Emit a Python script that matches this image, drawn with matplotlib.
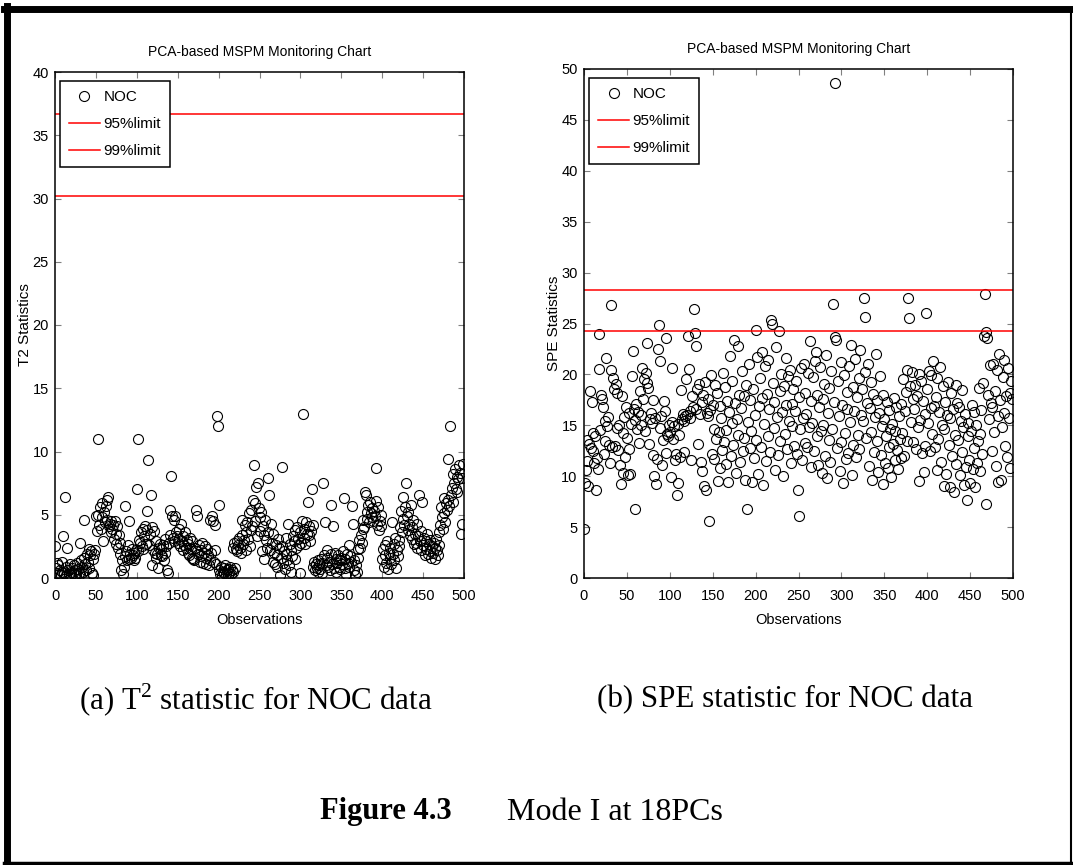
import numpy as np
import matplotlib
matplotlib.use("Agg")
import matplotlib.pyplot as plt
from matplotlib.lines import Line2D

# T2 statistic for NOC data (500 observations)
t2_values = [
    2.5, 0.8, 1.2, 0.4, 1.0, 0.3, 0.6, 0.2, 1.3, 0.5,
    3.3, 0.4, 6.4, 0.9, 0.2, 2.4, 0.6, 0.3, 1.1, 0.5,
    0.2, 0.8, 0.4, 1.0, 0.3, 0.6, 0.2, 1.2, 0.7, 0.4,
    2.8, 0.3, 1.4, 0.9, 0.5, 1.6, 4.6, 1.1, 0.6, 1.9,
    1.3, 2.3, 0.8, 1.8, 2.1, 0.4, 1.5, 0.2, 1.9, 2.2,
    4.9, 3.7, 11.0, 5.0, 4.2, 5.6, 3.9, 4.8, 5.9, 2.9,
    5.2, 4.4, 5.7, 4.6, 6.2, 6.4, 4.1, 4.3, 3.6, 4.5,
    3.9, 4.2, 3.1, 4.5, 2.7, 3.5, 4.1, 2.4, 3.4, 1.9,
    2.8, 0.6, 1.4, 0.3, 0.9, 5.7, 1.7, 2.1, 1.4, 2.6,
    1.5, 4.5, 1.9, 1.6, 2.3, 1.8, 1.4, 2.0, 1.6, 2.2,
    7.0, 2.1, 11.0, 3.0, 2.8, 3.6, 2.5, 3.9, 2.3, 3.3,
    4.1, 2.7, 5.3, 3.8, 9.3, 2.6, 3.5, 6.6, 1.0, 4.0,
    2.2, 3.7, 2.0, 1.6, 2.9, 1.9, 0.8, 2.4, 2.7, 1.8,
    2.3, 1.7, 2.6, 1.4, 2.0, 3.1, 2.5, 0.6, 0.4, 2.8,
    3.4, 5.4, 8.1, 4.9, 3.2, 4.6, 2.9, 4.9, 3.6, 3.3,
    2.8, 3.9, 3.1, 2.5, 4.3, 2.9, 2.2, 3.3, 2.6, 3.6,
    2.4, 3.0, 2.0, 2.7, 1.8, 3.2, 2.3, 1.6, 2.9, 1.5,
    1.4, 2.4, 5.4, 2.1, 4.9, 1.9, 2.6, 1.3, 2.2, 1.7,
    2.8, 1.2, 2.0, 2.5, 1.6, 1.1, 2.3, 1.8, 1.0, 4.6,
    1.4, 2.0, 4.9, 4.5, 1.3, 2.2, 4.2, 1.1, 12.8, 12.0,
    5.8, 0.6, 0.3, 0.9, 0.2, 0.5, 0.8, 0.4, 1.0, 0.3,
    0.6, 0.2, 0.7, 0.4, 0.9, 0.3, 0.6, 2.4, 0.5, 2.8,
    0.8, 2.3, 2.1, 2.9, 2.6, 3.2, 2.4, 2.0, 3.4, 4.6,
    2.7, 3.0, 4.2, 3.6, 2.2, 4.4, 3.1, 5.1, 2.5, 3.8,
    5.4, 4.1, 6.2, 8.9, 5.9, 4.5, 7.2, 3.3, 7.5, 5.5,
    4.8, 3.7, 5.2, 2.1, 4.1, 1.5, 3.4, 4.6, 3.0, 2.4,
    7.9, 3.6, 6.6, 2.2, 4.3, 2.8, 1.3, 3.5, 2.0, 1.1,
    2.6, 1.8, 0.9, 3.1, 2.4, 0.2, 1.6, 8.8, 2.5, 1.2,
    2.1, 0.7, 3.2, 1.9, 1.4, 4.3, 1.0, 2.7, 0.5, 2.2,
    1.7, 3.3, 2.9, 1.5, 3.8, 2.4, 4.0, 3.1, 2.6, 0.4,
    3.6, 2.8, 4.5, 13.0, 3.2, 3.9, 2.7, 4.4, 3.5, 6.0,
    3.4, 4.1, 2.9, 3.7, 7.0, 4.2, 0.9, 1.3, 0.6, 1.1,
    0.8, 1.4, 0.5, 1.0, 0.7, 1.5, 1.2, 0.4, 7.5, 1.8,
    4.4, 1.0, 2.2, 1.6, 0.9, 1.3, 0.6, 5.8, 1.9, 1.1,
    4.1, 0.8, 2.0, 1.5, 0.5, 1.2, 1.8, 0.9, 1.4, 0.7,
    1.6, 1.1, 2.1, 6.3, 0.8, 1.5, 0.3, 1.9, 1.2, 2.6,
    0.9, 1.7, 1.3, 5.7, 4.3, 0.6, 1.4, 0.2, 1.0, 0.5,
    2.3, 1.6, 3.0, 2.4, 3.4, 2.8, 3.9, 4.6, 4.0, 6.8,
    6.6, 5.2, 4.7, 5.8, 4.4, 6.0, 5.1, 4.8, 5.5, 4.5,
    5.3, 4.9, 6.1, 8.7, 4.2, 5.6, 3.8, 4.5, 5.0, 4.1,
    1.5, 2.3, 0.9, 1.8, 2.6, 1.2, 2.9, 0.7, 2.0, 1.6,
    2.4, 1.1, 4.4, 1.9, 2.7, 1.4, 3.2, 0.8, 2.2, 1.7,
    3.0, 2.5, 4.0, 5.3, 3.6, 4.7, 6.4, 4.2, 5.6, 7.5,
    4.9, 3.8, 5.2, 4.3, 3.4, 5.8, 4.0, 3.1, 4.6, 2.7,
    3.5, 2.8, 4.3, 2.4, 3.3, 6.6, 2.9, 2.2, 3.7, 6.0,
    2.6, 3.2, 1.8, 2.9, 2.3, 3.5, 1.9, 2.7, 2.1, 3.0,
    1.6, 2.5, 2.0, 2.8, 1.5, 2.4, 3.1, 2.2, 1.8, 2.6,
    3.6, 4.2, 5.6, 4.8, 3.9, 6.3, 5.1, 4.4, 5.9, 5.4,
    6.2, 9.4, 5.7, 12.0, 6.6, 7.1, 6.0, 8.2, 7.5, 8.6,
    7.0, 8.0, 6.8, 7.8, 8.9, 8.3, 3.5, 4.3, 7.9, 9.0,
]

# SPE statistic for NOC data (500 observations)
spe_values = [
    4.8, 9.3, 10.6, 11.5, 13.6, 9.0, 13.2, 18.4, 12.8, 17.3,
    14.2, 12.5, 11.3, 13.9, 8.6, 11.8, 10.7, 24.0, 20.5, 14.5,
    18.0, 17.6, 16.8, 12.2, 15.4, 13.5, 21.6, 14.9, 15.8, 13.1,
    11.3, 20.4, 26.8, 12.9, 19.6, 18.6, 13.0, 19.1, 14.7, 18.2,
    12.6, 15.0, 11.1, 9.2, 17.9, 10.3, 14.2, 15.8, 11.9, 16.8,
    13.8, 10.1, 16.2, 12.7, 10.2, 15.1, 19.8, 22.3, 16.6, 6.8,
    15.5, 17.1, 14.6, 16.3, 13.3, 18.4, 15.0, 16.0, 20.6, 17.6,
    19.5, 14.4, 20.1, 23.1, 19.2, 18.7, 13.2, 15.6, 16.2, 15.2,
    12.1, 17.5, 10.0, 15.7, 9.2, 11.7, 22.5, 24.9, 21.3, 14.7,
    15.9, 11.1, 13.6, 17.4, 16.4, 12.3, 23.6, 14.1, 13.9, 15.0,
    14.3, 9.9, 20.6, 15.3, 13.7, 14.9, 11.6, 12.2, 8.2, 15.1,
    9.3, 14.0, 11.9, 18.5, 15.6, 16.1, 15.4, 12.4, 15.9, 19.5,
    16.0, 23.8, 20.5, 15.7, 16.4, 11.6, 17.9, 16.8, 26.4, 24.1,
    22.8, 16.6, 18.6, 13.2, 19.1, 16.1, 11.4, 17.3, 10.5, 18.0,
    9.0, 19.3, 8.6, 16.2, 17.6, 15.9, 5.6, 16.5, 19.9, 12.2,
    17.0, 11.7, 14.6, 19.0, 13.7, 18.2, 9.5, 14.3, 16.9, 10.8,
    15.7, 12.6, 20.1, 13.4, 18.8, 11.2, 14.5, 17.4, 9.4, 16.3,
    21.8, 12.0, 15.2, 19.4, 13.1, 23.4, 17.2, 10.3, 15.6, 22.8,
    14.0, 18.0, 11.4, 16.7, 20.3, 12.5, 17.9, 13.8, 9.6, 19.0,
    6.8, 15.3, 21.0, 12.8, 17.5, 14.4, 9.4, 18.6, 11.8, 16.0,
    24.4, 13.6, 21.7, 10.2, 16.9, 19.6, 12.9, 17.7, 22.2, 9.1,
    15.1, 20.8, 11.5, 18.1, 13.9, 21.4, 16.6, 12.4, 25.3, 25.0,
    19.2, 14.7, 17.3, 10.6, 22.7, 15.8, 12.1, 24.3, 18.4, 13.5,
    20.0, 16.3, 10.0, 18.9, 14.1, 21.6, 17.0, 12.7, 19.8, 15.4,
    20.4, 11.3, 17.1, 14.9, 18.6, 13.0, 16.4, 19.4, 12.2, 8.6,
    6.1, 17.8, 14.6, 20.6, 11.6, 15.7, 21.0, 13.3, 18.2, 16.1,
    12.9, 20.1, 14.8, 23.3, 10.9, 17.4, 15.2, 19.7, 12.5, 21.3,
    22.2, 13.9, 18.0, 11.1, 16.8, 20.7, 14.4, 10.3, 17.6, 15.0,
    19.1, 12.0, 21.9, 9.8, 16.2, 13.6, 18.7, 11.4, 20.3, 14.6,
    26.9, 17.3, 23.7, 48.6, 23.4, 12.8, 19.4, 15.9, 10.5, 21.2,
    13.4, 17.0, 9.3, 19.9, 14.2, 11.7, 18.3, 16.6, 12.3, 20.8,
    15.3, 22.9, 10.1, 18.8, 13.1, 16.4, 21.5, 11.9, 17.8, 14.0,
    19.6, 12.7, 22.4, 16.0, 18.6, 15.4, 27.5, 20.2, 25.6, 13.8,
    17.2, 21.0, 11.0, 16.7, 19.3, 14.3, 9.6, 18.1, 12.4, 15.8,
    22.0, 13.5, 17.5, 10.4, 16.2, 19.8, 12.1, 14.9, 9.2, 18.0,
    15.6, 11.3, 13.9, 17.3, 10.8, 16.5, 12.9, 14.6, 9.9, 15.1,
    13.2, 17.7, 11.6, 14.4, 16.8, 12.6, 10.7, 15.9, 13.7, 11.8,
    17.1, 14.2, 19.5, 12.0, 16.4, 18.3, 13.5, 20.4, 27.5, 25.5,
    18.9, 15.3, 20.2, 17.6, 13.4, 16.6, 19.0, 12.7, 17.9, 14.8,
    20.0, 9.5, 15.5, 19.4, 12.3, 17.4, 10.4, 16.1, 13.0, 26.0,
    18.6, 15.2, 20.3, 12.5, 16.7, 19.9, 14.1, 21.3, 16.9, 12.9,
    17.8, 10.6, 19.6, 13.7, 16.3, 20.7, 11.4, 15.0, 18.9, 9.0,
    14.6, 17.3, 10.2, 16.0, 19.3, 13.1, 15.7, 8.9, 18.2, 12.0,
    16.6, 8.4, 14.0, 19.0, 11.2, 17.2, 13.6, 16.8, 10.1, 15.4,
    18.5, 12.4, 14.8, 9.1, 16.1, 10.9, 7.7, 13.9, 15.2, 11.6,
    9.3, 14.4, 17.0, 10.7, 12.8, 16.3, 8.9, 15.0, 11.3, 13.5,
    18.7, 10.5, 14.1, 16.5, 12.2, 19.2, 23.8, 27.9, 24.2, 7.3,
    23.6, 18.0, 15.6, 20.9, 17.2, 12.5, 16.8, 21.0, 14.3, 18.4,
    11.0, 20.4, 15.9, 9.4, 22.0, 17.5, 9.6, 14.8, 19.7, 16.2,
    21.4, 13.0, 17.9, 11.9, 20.6, 15.7, 18.2, 10.8, 19.4, 17.6,
]

t2_limits = [36.7, 30.2]    # 95%, 99%
spe_limits = [28.3, 24.3]   # 95%, 99%
limit_labels = ["95%limit", "99%limit"]

sans = "Liberation Sans"
plt.rcParams["mathtext.fontset"] = "custom"
plt.rcParams["mathtext.rm"] = "Liberation Serif"


def monitoring_chart(ax, values, limits, ymax, ylabel):
    obs = np.arange(len(values))
    ax.plot(obs, values, "o", mfc="none", mec="black", ms=7.2, mew=0.8, label="NOC")
    for lim, lab in zip(limits, limit_labels):
        ax.axhline(lim, color="red", lw=1.1, label=lab)
    ax.set_xlim(0, 500)
    ax.set_ylim(0, ymax)
    ax.set_xticks(np.arange(0, 501, 50))
    ax.set_yticks(np.arange(0, ymax + 1, 5))
    ax.tick_params(direction="in", length=4, color="#808080", top=True, right=True,
                   labelsize=10.5)
    ax.tick_params(axis="x", pad=8)
    ax.tick_params(axis="y", pad=4.5)
    for lbl in ax.get_xticklabels() + ax.get_yticklabels():
        lbl.set_family(sans)
    for sp in ax.spines.values():
        sp.set_linewidth(1.1)
    ax.set_xlabel("Observations", family=sans, fontsize=10.5, labelpad=7)
    ax.set_ylabel(ylabel, family=sans, fontsize=11, labelpad=0)
    ax.text(0.5, 1.04, "PCA-based MSPM Monitoring Chart", transform=ax.transAxes,
            ha="center", va="center", family=sans, fontsize=10)
    leg = ax.legend(loc="upper left", bbox_to_anchor=(0.012, 0.982), fancybox=False,
                    edgecolor="black", framealpha=1, borderaxespad=0, handlelength=2.0,
                    prop={"family": sans, "size": 11}, labelspacing=0.85,
                    borderpad=0.6, handletextpad=0.25)
    leg.get_frame().set_linewidth(1.1)


fig = plt.figure(figsize=(10.73, 8.65), dpi=100)
ax1 = fig.add_axes([55 / 1073, 1 - 578 / 865, 409 / 1073, 506 / 865])
ax2 = fig.add_axes([584 / 1073, 1 - 578 / 865, 429 / 1073, 509 / 865])

monitoring_chart(ax1, t2_values, t2_limits, 40, "T2 Statistics")
monitoring_chart(ax2, spe_values, spe_limits, 50, "SPE Statistics")

# captions
fig.text(256 / 1073, 1 - 700 / 865, r"(a) T$^{2}$ statistic for NOC data",
         family="Liberation Serif", fontsize=22.3, ha="center", va="center")
fig.text(785 / 1073, 1 - 700 / 865, "(b) SPE statistic for NOC data",
         family="Liberation Serif", fontsize=22.3, ha="center", va="center")
fig.text(320 / 1073, 1 - 812 / 865, "Figure 4.3", family="Liberation Serif",
         fontweight="bold", fontsize=22, ha="left", va="center")
fig.text(507 / 1073, 1 - 812 / 865, "Mode I at 18PCs", family="Liberation Serif",
         fontsize=23, ha="left", va="center")

# page frame
W, H = 1073, 865
fig.add_artist(Line2D([7 / W, 7 / W], [0, 1 - 6 / H], transform=fig.transFigure, color="black", lw=5))
fig.add_artist(Line2D([4 / W, 1], [1 - 9 / H, 1 - 9 / H], transform=fig.transFigure, color="black", lw=5))
fig.add_artist(Line2D([1071 / W, 1071 / W], [0, 1 - 9 / H], transform=fig.transFigure, color="black", lw=1.5))
fig.add_artist(Line2D([4 / W, 1], [2 / H, 2 / H], transform=fig.transFigure, color="black", lw=2.5))

fig.savefig("out.png", dpi=100)
